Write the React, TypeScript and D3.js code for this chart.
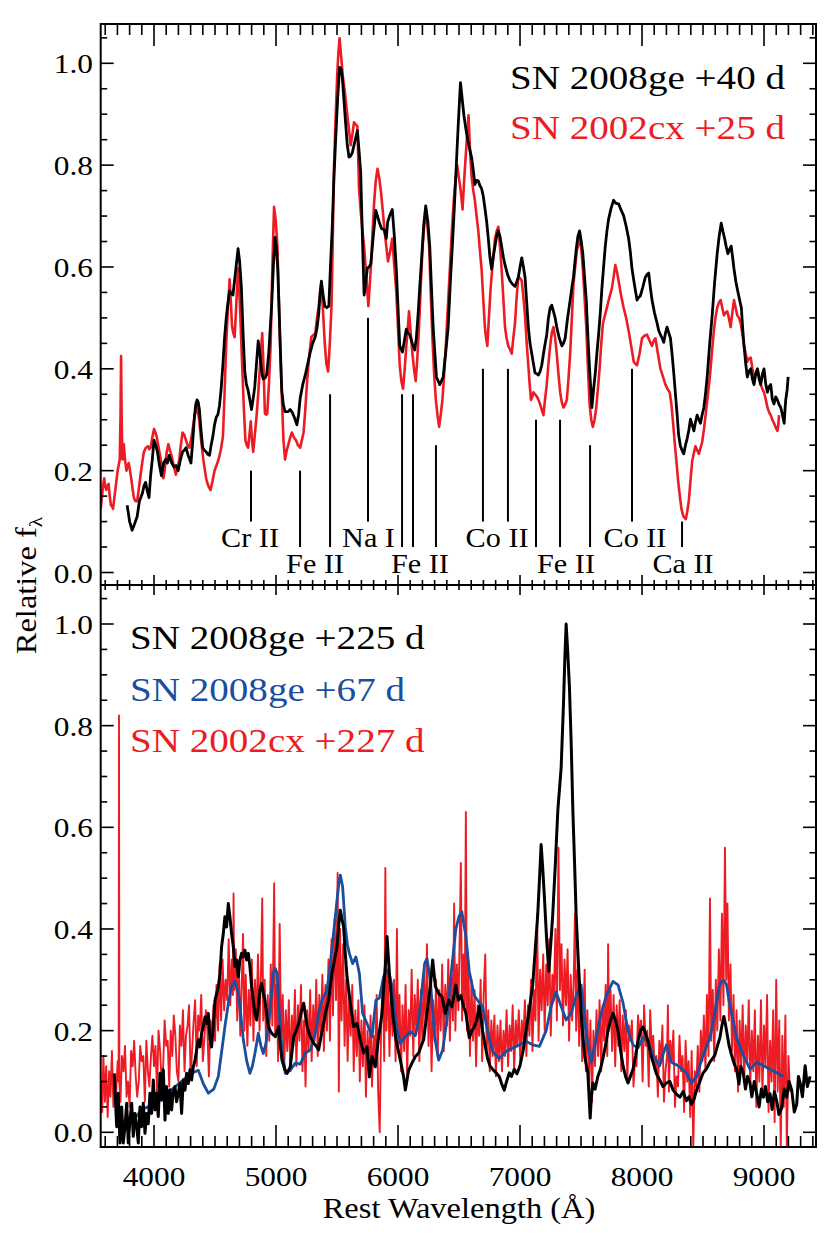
import React from 'react';
import * as d3 from 'd3';

type P = [number, number];

// ---------------- axis definitions ----------------
const X_DOMAIN: [number, number] = [3563, 9426];
const X_MAJOR = [4000, 5000, 6000, 7000, 8000, 9000];
const X_LABELS = ['4000', '5000', '6000', '7000', '8000', '9000'];
const Y_MAJOR = [0, 0.2, 0.4, 0.6, 0.8, 1.0];
const Y_LABELS = ['0.0', '0.2', '0.4', '0.6', '0.8', '1.0'];

// ---------------- top panel ----------------
const topLegend = ['SN 2008ge +40 d', 'SN 2002cx +25 d'];

const topRed: P[] = [
[3563,.125],[3573,.147],[3582,.17],[3592,.185],[3600,.17],[3609,.162],[3618,.17],[3628,.174],[3637,.15],[3647,.132],[3656,.13],[3664,.125],[3674,.145],[3683,.162],[3692,.18],[3702,.2],[3710,.21],[3719,.222],[3725,.3],[3730,.425],[3735,.3],[3741,.222],[3746,.24],[3752,.252],[3763,.22],[3774,.2],[3784,.21],[3793,.215],[3803,.2],[3813,.185],[3824,.165],[3835,.147],[3848,.14],[3862,.14],[3876,.165],[3890,.192],[3903,.215],[3917,.237],[3933,.245],[3950,.248],[3961,.242],[3972,.245],[3986,.265],[4000,.282],[4011,.275],[4022,.267],[4038,.245],[4055,.222],[4066,.2],[4077,.185],[4087,.2],[4096,.222],[4107,.24],[4118,.252],[4130,.24],[4143,.23],[4161,.21],[4179,.192],[4193,.205],[4207,.222],[4220,.25],[4234,.275],[4248,.27],[4262,.26],[4275,.25],[4289,.245],[4303,.26],[4317,.282],[4335,.31],[4353,.327],[4370,.3],[4386,.26],[4405,.22],[4427,.185],[4445,.17],[4463,.162],[4480,.18],[4496,.2],[4512,.21],[4529,.222],[4547,.24],[4565,.267],[4578,.35],[4592,.448],[4606,.52],[4620,.576],[4630,.53],[4639,.485],[4650,.47],[4661,.462],[4675,.53],[4689,.598],[4705,.52],[4722,.41],[4735,.33],[4749,.26],[4760,.25],[4771,.245],[4782,.27],[4793,.297],[4803,.26],[4813,.237],[4826,.27],[4840,.305],[4854,.35],[4868,.403],[4878,.44],[4887,.47],[4898,.4],[4909,.312],[4918,.31],[4928,.312],[4942,.37],[4956,.448],[4970,.6],[4984,.718],[4998,.69],[5011,.643],[5022,.55],[5033,.448],[5047,.35],[5061,.26],[5074,.222],[5088,.24],[5102,.252],[5116,.265],[5130,.275],[5147,.265],[5163,.26],[5180,.25],[5198,.245],[5212,.26],[5226,.275],[5240,.32],[5254,.373],[5270,.42],[5289,.462],[5305,.466],[5322,.47],[5336,.5],[5350,.523],[5362,.55],[5372,.568],[5386,.51],[5400,.448],[5413,.41],[5427,.395],[5441,.45],[5455,.523],[5465,.65],[5474,.786],[5488,.89],[5501,.974],[5511,1.02],[5521,1.049],[5535,1.01],[5548,.974],[5566,.94],[5584,.899],[5598,.87],[5612,.839],[5626,.86],[5639,.884],[5653,.88],[5667,.876],[5680,.756],[5694,.71],[5708,.673],[5722,.64],[5735,.598],[5746,.56],[5757,.523],[5767,.56],[5777,.598],[5790,.66],[5804,.726],[5818,.77],[5832,.793],[5846,.775],[5860,.748],[5875,.71],[5890,.671],[5904,.64],[5918,.611],[5935,.63],[5953,.656],[5970,.6],[5986,.551],[6000,.48],[6014,.407],[6028,.375],[6041,.361],[6055,.4],[6068,.445],[6080,.48],[6090,.513],[6104,.47],[6118,.43],[6131,.4],[6145,.376],[6158,.42],[6172,.482],[6186,.56],[6200,.633],[6214,.68],[6227,.716],[6241,.68],[6255,.641],[6268,.55],[6282,.46],[6296,.39],[6310,.339],[6323,.31],[6337,.286],[6350,.31],[6364,.339],[6378,.39],[6392,.445],[6408,.52],[6425,.596],[6441,.67],[6457,.731],[6471,.77],[6485,.8],[6496,.78],[6507,.762],[6518,.74],[6529,.713],[6542,.77],[6556,.822],[6567,.86],[6578,.898],[6590,.83],[6603,.777],[6617,.75],[6630,.731],[6644,.7],[6658,.671],[6672,.63],[6685,.596],[6698,.54],[6712,.482],[6722,.46],[6732,.445],[6745,.5],[6759,.558],[6777,.61],[6795,.656],[6808,.67],[6822,.679],[6836,.64],[6849,.596],[6863,.54],[6877,.482],[6890,.46],[6904,.445],[6918,.438],[6932,.43],[6945,.46],[6959,.49],[6972,.54],[6986,.58],[7000,.578],[7014,.573],[7028,.54],[7041,.505],[7055,.45],[7068,.407],[7079,.37],[7090,.339],[7100,.345],[7110,.354],[7123,.35],[7137,.346],[7150,.34],[7164,.331],[7178,.32],[7192,.309],[7205,.34],[7219,.369],[7233,.41],[7247,.445],[7260,.47],[7274,.482],[7288,.46],[7301,.43],[7315,.39],[7329,.354],[7342,.335],[7356,.324],[7370,.33],[7384,.339],[7397,.38],[7411,.43],[7425,.5],[7438,.565],[7452,.6],[7466,.633],[7480,.645],[7493,.656],[7504,.63],[7515,.596],[7529,.54],[7543,.482],[7557,.4],[7570,.331],[7584,.3],[7597,.286],[7611,.3],[7625,.324],[7638,.36],[7652,.4],[7666,.45],[7680,.49],[7696,.505],[7712,.52],[7732,.54],[7753,.558],[7767,.58],[7781,.604],[7795,.59],[7808,.573],[7828,.545],[7849,.52],[7870,.5],[7890,.475],[7911,.445],[7932,.414],[7945,.41],[7959,.407],[7980,.43],[8000,.46],[8020,.465],[8041,.467],[8062,.455],[8082,.445],[8096,.455],[8110,.46],[8130,.43],[8151,.4],[8171,.385],[8192,.369],[8210,.36],[8227,.354],[8241,.33],[8255,.293],[8268,.255],[8282,.218],[8296,.18],[8310,.15],[8323,.125],[8337,.112],[8348,.107],[8359,.105],[8371,.12],[8384,.142],[8397,.18],[8411,.218],[8425,.235],[8438,.248],[8452,.24],[8466,.233],[8480,.245],[8493,.256],[8507,.28],[8521,.309],[8538,.345],[8556,.384],[8572,.43],[8589,.475],[8602,.5],[8616,.52],[8630,.53],[8644,.535],[8658,.52],[8671,.505],[8685,.51],[8699,.513],[8712,.5],[8726,.482],[8740,.51],[8754,.535],[8767,.52],[8781,.505],[8795,.5],[8808,.49],[8822,.47],[8836,.445],[8850,.43],[8863,.414],[8877,.42],[8891,.422],[8905,.4],[8918,.384],[8932,.39],[8946,.4],[8960,.385],[8973,.369],[8987,.36],[9000,.354],[9014,.34],[9028,.324],[9041,.315],[9055,.309],[9068,.3],[9082,.293],[9096,.285],[9110,.278],[9117,.29],[9123,.309]
];

const topBlack: P[] = [
[3780,.132],[3800,.10],[3821,.083],[3840,.095],[3862,.11],[3880,.14],[3904,.155],[3918,.17],[3931,.177],[3945,.16],[3959,.147],[3972,.19],[3986,.222],[4000,.26],[4014,.25],[4028,.237],[4045,.21],[4061,.19],[4078,.215],[4096,.222],[4110,.215],[4124,.23],[4145,.215],[4165,.207],[4180,.21],[4198,.2],[4215,.22],[4234,.237],[4248,.24],[4262,.245],[4280,.23],[4303,.215],[4318,.26],[4331,.305],[4342,.33],[4353,.339],[4362,.335],[4372,.32],[4385,.28],[4399,.245],[4413,.24],[4427,.237],[4441,.232],[4455,.23],[4468,.25],[4482,.267],[4496,.29],[4510,.305],[4523,.31],[4537,.328],[4550,.36],[4565,.41],[4578,.46],[4592,.5],[4606,.53],[4620,.553],[4633,.548],[4647,.545],[4668,.59],[4689,.636],[4702,.61],[4716,.56],[4730,.47],[4744,.395],[4757,.37],[4771,.358],[4785,.34],[4799,.32],[4812,.34],[4826,.365],[4840,.41],[4854,.455],[4865,.435],[4876,.41],[4885,.39],[4895,.38],[4910,.382],[4923,.388],[4940,.43],[4964,.523],[4978,.6],[4992,.658],[5003,.64],[5014,.598],[5030,.48],[5047,.358],[5060,.33],[5074,.316],[5100,.316],[5115,.32],[5130,.316],[5150,.305],[5171,.29],[5185,.31],[5198,.342],[5220,.37],[5240,.388],[5260,.41],[5281,.433],[5300,.45],[5322,.463],[5336,.48],[5350,.508],[5362,.55],[5372,.572],[5386,.545],[5400,.523],[5416,.52],[5433,.523],[5446,.6],[5460,.673],[5474,.77],[5488,.846],[5505,.93],[5521,.992],[5532,.99],[5543,.974],[5556,.93],[5570,.884],[5584,.84],[5598,.816],[5612,.818],[5625,.824],[5640,.84],[5653,.853],[5667,.868],[5680,.83],[5694,.786],[5708,.66],[5722,.545],[5735,.57],[5749,.598],[5763,.6],[5777,.606],[5797,.66],[5818,.711],[5832,.7],[5846,.688],[5866,.675],[5887,.673],[5904,.656],[5915,.688],[5930,.7],[5953,.713],[5970,.66],[5986,.596],[6000,.52],[6014,.445],[6036,.433],[6052,.455],[6068,.478],[6082,.47],[6096,.467],[6117,.45],[6137,.437],[6150,.46],[6164,.505],[6178,.56],[6192,.611],[6210,.68],[6227,.72],[6244,.69],[6260,.641],[6274,.56],[6288,.482],[6302,.43],[6315,.384],[6342,.369],[6370,.384],[6390,.43],[6411,.482],[6431,.58],[6452,.671],[6468,.75],[6485,.837],[6498,.9],[6512,.962],[6526,.93],[6540,.898],[6557,.87],[6575,.845],[6589,.83],[6603,.815],[6617,.79],[6630,.762],[6644,.77],[6658,.769],[6671,.76],[6685,.754],[6698,.74],[6712,.716],[6726,.69],[6740,.656],[6753,.62],[6767,.596],[6781,.62],[6795,.641],[6808,.66],[6822,.671],[6836,.66],[6849,.641],[6863,.62],[6877,.604],[6898,.585],[6918,.573],[6939,.566],[6959,.562],[6972,.57],[6986,.58],[7000,.6],[7014,.618],[7028,.6],[7041,.58],[7055,.53],[7068,.482],[7082,.45],[7096,.43],[7110,.41],[7123,.392],[7137,.39],[7151,.388],[7165,.395],[7178,.407],[7199,.44],[7219,.467],[7233,.5],[7247,.52],[7260,.525],[7274,.513],[7288,.5],[7301,.482],[7322,.46],[7343,.445],[7356,.45],[7370,.46],[7390,.5],[7411,.535],[7425,.56],[7438,.58],[7450,.61],[7460,.633],[7474,.66],[7488,.671],[7502,.65],[7515,.626],[7529,.58],[7543,.535],[7557,.46],[7570,.4],[7580,.36],[7589,.324],[7603,.36],[7617,.392],[7630,.43],[7644,.467],[7658,.51],[7671,.558],[7685,.6],[7699,.641],[7712,.67],[7726,.694],[7746,.715],[7767,.731],[7787,.725],[7808,.724],[7828,.712],[7849,.701],[7870,.68],[7890,.656],[7904,.63],[7918,.596],[7938,.565],[7959,.535],[7972,.54],[7986,.543],[8006,.56],[8027,.58],[8041,.585],[8055,.588],[8068,.56],[8082,.535],[8102,.51],[8123,.49],[8137,.475],[8151,.467],[8165,.46],[8178,.452],[8192,.47],[8205,.482],[8220,.47],[8233,.46],[8246,.43],[8260,.392],[8274,.35],[8288,.309],[8300,.27],[8315,.248],[8328,.24],[8342,.233],[8356,.25],[8370,.263],[8384,.28],[8397,.301],[8411,.29],[8425,.278],[8438,.295],[8452,.309],[8466,.3],[8479,.293],[8493,.31],[8507,.324],[8520,.35],[8534,.384],[8555,.45],[8575,.505],[8595,.57],[8616,.626],[8632,.66],[8649,.686],[8663,.67],[8677,.656],[8690,.64],[8704,.626],[8718,.635],[8731,.641],[8742,.62],[8754,.596],[8770,.57],[8786,.551],[8800,.535],[8814,.52],[8825,.48],[8836,.445],[8850,.41],[8863,.384],[8877,.395],[8891,.4],[8905,.38],[8918,.369],[8932,.39],[8946,.4],[8960,.38],[8973,.369],[8987,.39],[9000,.4],[9014,.37],[9028,.354],[9041,.365],[9055,.369],[9068,.34],[9082,.331],[9096,.345],[9110,.339],[9123,.33],[9137,.324],[9151,.31],[9165,.293],[9172,.32],[9178,.339],[9190,.36],[9198,.384]
];

// line identifications (wavelength, top value, bottom value)
const ionLineWave = [4795, 5197, 5443, 5754, 6033, 6123, 6311, 6696, 6901, 7131, 7328, 7574, 7918, 8328];
const ionLineTop = [0.2, 0.2, 0.35, 0.5, 0.35, 0.35, 0.25, 0.4, 0.4, 0.3, 0.3, 0.25, 0.4, 0.1];
const ionLineBottom = [0.1, 0.05, 0.05, 0.1, 0.05, 0.05, 0.05, 0.1, 0.1, 0.05, 0.05, 0.05, 0.1, 0.05];
const ionLabelText = ['Cr II', 'Fe II', 'Na I', 'Fe II', 'Co II', 'Fe II', 'Co II', 'Ca II'];
const ionLabelWave = [4787, 5320, 5758, 6180, 6812, 7377, 7942, 8336];
const ionLabelValue = [0.05, 0.0, 0.05, 0.0, 0.05, 0.0, 0.05, 0.0];

// ---------------- bottom panel ----------------
const botLegend = ['SN 2008ge +225 d', 'SN 2008ge +67 d', 'SN 2002cx +227 d'];

const botRed: P[] = [
[3563,.10],[3575,.04],[3585,.15],[3597,.06],[3608,.13],[3620,.03],[3632,.12],[3643,.07],[3655,.16],[3667,.05],[3678,.11],[3690,.08],[3702,.14],[3710,.10],[3713,.82],[3716,.10],[3725,.06],[3737,.15],[3750,.12],[3762,.17],[3775,.07],[3787,.10],[3800,.05],[3812,.16],[3825,.13],[3837,.18],[3850,.11],[3862,.07],[3875,.10],[3887,.17],[3900,.14],[3912,.15],[3925,.06],[3937,.18],[3950,.12],[3962,.09],[3975,.15],[3987,.19],[4000,.13],[4012,.17],[4025,.08],[4037,.20],[4050,.16],[4062,.10],[4075,.13],[4087,.22],[4100,.17],[4112,.18],[4125,.09],[4137,.20],[4150,.15],[4162,.23],[4175,.19],[4187,.12],[4200,.10],[4212,.21],[4225,.17],[4237,.24],[4250,.12],[4262,.19],[4275,.21],[4287,.25],[4300,.11],[4312,.16],[4325,.22],[4337,.26],[4350,.13],[4362,.23],[4375,.20],[4387,.27],[4400,.14],[4412,.18],[4425,.24],[4437,.20],[4450,.11],[4462,.22],[4475,.19],[4487,.25],[4500,.18],[4512,.29],[4525,.20],[4537,.33],[4550,.22],[4562,.34],[4575,.24],[4587,.30],[4600,.26],[4612,.38],[4625,.25],[4637,.34],[4647,.27],[4652,.47],[4657,.28],[4670,.36],[4682,.22],[4695,.33],[4707,.19],[4720,.30],[4730,.39],[4740,.20],[4752,.31],[4765,.17],[4777,.28],[4790,.21],[4802,.34],[4815,.18],[4827,.30],[4840,.22],[4852,.35],[4865,.20],[4877,.32],[4887,.46],[4895,.22],[4907,.30],[4920,.15],[4932,.27],[4945,.18],[4957,.33],[4970,.21],[4985,.49],[4993,.19],[5005,.29],[5017,.14],[5030,.41],[5042,.17],[5055,.27],[5067,.13],[5080,.24],[5092,.16],[5105,.26],[5117,.12],[5130,.23],[5142,.17],[5155,.28],[5167,.13],[5180,.25],[5192,.18],[5205,.29],[5217,.12],[5230,.22],[5242,.09],[5255,.24],[5267,.16],[5280,.28],[5292,.14],[5305,.25],[5317,.18],[5330,.30],[5342,.15],[5355,.27],[5367,.19],[5380,.31],[5392,.16],[5405,.29],[5417,.20],[5430,.34],[5442,.18],[5455,.38],[5467,.23],[5480,.42],[5492,.26],[5505,.51],[5515,.08],[5525,.40],[5537,.22],[5550,.37],[5562,.17],[5575,.30],[5587,.14],[5600,.27],[5612,.19],[5625,.29],[5637,.12],[5650,.24],[5662,.15],[5675,.26],[5687,.10],[5700,.22],[5712,.13],[5725,.25],[5737,.07],[5750,.20],[5762,.12],[5775,.23],[5787,.09],[5800,.19],[5812,.14],[5825,.27],[5837,.08],[5850,.00],[5862,.22],[5875,.30],[5887,.14],[5896,.52],[5905,.20],[5917,.32],[5930,.15],[5942,.28],[5955,.19],[5967,.30],[5980,.14],[5991,.40],[6000,.17],[6012,.27],[6025,.12],[6037,.25],[6050,.16],[6062,.29],[6075,.11],[6087,.24],[6100,.19],[6112,.32],[6125,.15],[6137,.27],[6150,.20],[6162,.30],[6175,.14],[6187,.28],[6200,.18],[6212,.31],[6225,.21],[6237,.37],[6250,.17],[6262,.29],[6275,.12],[6287,.26],[6300,.18],[6312,.30],[6325,.15],[6337,.28],[6350,.20],[6362,.33],[6375,.16],[6387,.29],[6400,.21],[6412,.34],[6425,.18],[6437,.31],[6450,.22],[6460,.45],[6470,.20],[6482,.33],[6495,.24],[6505,.38],[6515,.53],[6525,.22],[6537,.35],[6547,.25],[6556,.63],[6565,.20],[6577,.33],[6590,.15],[6602,.30],[6615,.18],[6627,.28],[6640,.13],[6652,.25],[6665,.19],[6677,.30],[6690,.14],[6702,.27],[6715,.35],[6727,.16],[6740,.24],[6752,.12],[6765,.22],[6777,.15],[6790,.23],[6802,.11],[6815,.21],[6827,.14],[6840,.22],[6852,.12],[6865,.20],[6877,.15],[6890,.24],[6902,.13],[6915,.21],[6927,.16],[6940,.25],[6952,.12],[6965,.22],[6977,.17],[6990,.24],[7002,.14],[7015,.22],[7027,.18],[7040,.26],[7052,.15],[7065,.25],[7077,.19],[7090,.30],[7102,.16],[7115,.28],[7127,.22],[7140,.43],[7152,.18],[7165,.32],[7177,.24],[7190,.35],[7202,.20],[7215,.33],[7227,.25],[7240,.38],[7252,.19],[7265,.31],[7277,.26],[7290,.40],[7302,.22],[7315,.56],[7327,.28],[7340,.37],[7352,.21],[7365,.34],[7377,.25],[7390,.36],[7402,.18],[7415,.31],[7427,.22],[7440,.30],[7450,.43],[7460,.20],[7472,.32],[7485,.17],[7497,.29],[7510,.14],[7522,.25],[7530,.32],[7540,.12],[7552,.24],[7565,.10],[7577,.22],[7590,.06],[7602,.20],[7615,.13],[7627,.24],[7640,.15],[7652,.26],[7665,.12],[7677,.25],[7690,.18],[7702,.29],[7715,.15],[7722,.37],[7730,.20],[7742,.28],[7755,.16],[7767,.27],[7780,.13],[7792,.25],[7805,.17],[7817,.26],[7830,.12],[7842,.23],[7855,.16],[7867,.24],[7880,.10],[7892,.21],[7905,.18],[7917,.22],[7930,.09],[7942,.14],[7955,.13],[7967,.23],[7980,.19],[7992,.22],[8005,.10],[8017,.25],[8030,.17],[8042,.20],[8055,.09],[8067,.24],[8080,.16],[8092,.19],[8105,.12],[8117,.15],[8130,.07],[8142,.18],[8155,.14],[8167,.21],[8180,.06],[8192,.12],[8205,.15],[8212,.25],[8220,.08],[8232,.18],[8245,.14],[8257,.20],[8270,.05],[8282,.11],[8295,.09],[8307,.19],[8320,.12],[8332,.15],[8345,.04],[8357,.18],[8370,.10],[8382,.14],[8395,.03],[8407,.16],[8420,-.03],[8432,.12],[8445,.09],[8457,.17],[8470,.08],[8482,.20],[8495,.14],[8507,.23],[8520,.12],[8532,.27],[8545,.15],[8557,.46],[8567,.18],[8580,.28],[8592,.14],[8605,.30],[8617,.20],[8630,.36],[8642,.22],[8655,.43],[8667,.25],[8680,.56],[8690,.30],[8700,.45],[8712,.22],[8725,.33],[8737,.16],[8750,.27],[8762,.12],[8775,.24],[8787,.08],[8800,.22],[8812,.13],[8825,.25],[8837,.10],[8850,.21],[8862,.14],[8875,.26],[8887,.09],[8900,.20],[8912,.12],[8925,.24],[8937,.05],[8950,.19],[8962,.10],[8975,.26],[8987,.07],[9000,.21],[9012,.13],[9025,.27],[9037,.04],[9050,.18],[9062,.10],[9075,.24],[9087,.02],[9100,.30],[9112,.08],[9125,.22],[9137,-.03],[9150,.19],[9162,.05],[9175,.23],[9187,-.03],[9200,.15],[9212,.08]
];

const botBlue: P[] = [
[3850,.03],[3900,.045],[3950,.05],[4000,.06],[4050,.07],[4100,.08],[4150,.085],[4200,.095],[4250,.105],[4300,.115],[4363,.122],[4405,.095],[4445,.077],[4490,.085],[4527,.11],[4555,.16],[4581,.208],[4610,.255],[4636,.287],[4663,.297],[4691,.273],[4712,.23],[4732,.182],[4760,.14],[4786,.116],[4806,.13],[4827,.155],[4855,.195],[4876,.17],[4896,.155],[4917,.175],[4937,.208],[4958,.26],[4978,.313],[4995,.322],[5008,.313],[5028,.23],[5049,.162],[5076,.116],[5117,.122],[5158,.136],[5199,.134],[5240,.156],[5281,.162],[5322,.195],[5350,.235],[5377,.26],[5418,.28],[5440,.32],[5459,.365],[5480,.41],[5500,.457],[5515,.49],[5527,.506],[5546,.483],[5568,.404],[5585,.37],[5601,.352],[5628,.332],[5655,.345],[5683,.313],[5710,.234],[5746,.214],[5787,.188],[5805,.23],[5819,.26],[5847,.264],[5882,.306],[5910,.319],[5930,.31],[5951,.287],[5983,.214],[6019,.175],[6060,.188],[6101,.198],[6142,.19],[6165,.215],[6183,.247],[6200,.29],[6218,.332],[6237,.342],[6265,.3],[6283,.24],[6300,.188],[6333,.142],[6366,.162],[6401,.221],[6430,.3],[6474,.4],[6500,.425],[6523,.434],[6556,.386],[6584,.317],[6625,.269],[6666,.255],[6693,.248],[6734,.2],[6775,.159],[6830,.145],[6885,.159],[6940,.166],[6995,.172],[7049,.179],[7104,.172],[7159,.169],[7214,.2],[7255,.248],[7296,.276],[7337,.248],[7378,.221],[7419,.234],[7460,.269],[7501,.29],[7542,.193],[7584,.138],[7625,.186],[7666,.234],[7707,.269],[7762,.297],[7803,.29],[7844,.255],[7885,.2],[7926,.172],[7967,.166],[8008,.186],[8049,.179],[8090,.152],[8145,.131],[8175,.155],[8200,.172],[8241,.138],[8296,.131],[8364,.117],[8405,.097],[8447,.11],[8501,.152],[8556,.186],[8585,.22],[8611,.255],[8632,.285],[8652,.297],[8675,.298],[8693,.29],[8712,.26],[8734,.234],[8775,.186],[8830,.152],[8885,.124],[8940,.138],[8995,.131],[9049,.124],[9104,.117],[9160,.11]
];

const botBlack: P[] = [
[3674,.116],[3694,.011],[3707,.077],[3721,-.021],[3735,.05],[3748,-.021],[3762,.011],[3776,.057],[3789,-.021],[3803,.024],[3817,.057],[3830,-.008],[3844,.037],[3858,.011],[3871,-.021],[3885,.05],[3898,.011],[3912,.057],[3926,-.002],[3939,.037],[3953,.017],[3967,.077],[3980,.037],[3994,.103],[4008,.044],[4021,.077],[4035,.031],[4049,.116],[4062,.063],[4076,.123],[4090,.024],[4103,.09],[4117,.037],[4131,.083],[4144,.044],[4158,.08],[4172,.09],[4185,.06],[4199,.077],[4213,.096],[4226,.037],[4240,.103],[4254,.083],[4267,.116],[4281,.096],[4295,.123],[4308,.103],[4322,.129],[4336,.142],[4349,.162],[4363,.182],[4377,.168],[4390,.195],[4404,.208],[4418,.227],[4431,.214],[4445,.234],[4459,.182],[4472,.168],[4486,.208],[4500,.26],[4513,.273],[4527,.286],[4541,.313],[4554,.365],[4568,.391],[4581,.424],[4595,.404],[4609,.45],[4622,.424],[4636,.391],[4650,.365],[4663,.326],[4677,.339],[4691,.306],[4704,.339],[4718,.352],[4732,.345],[4745,.358],[4759,.339],[4773,.352],[4786,.326],[4800,.286],[4814,.26],[4827,.234],[4841,.221],[4855,.247],[4868,.28],[4882,.293],[4896,.273],[4909,.26],[4923,.234],[4937,.208],[4964,.195],[4994,.188],[5022,.208],[5035,.17],[5049,.142],[5070,.125],[5090,.116],[5117,.129],[5145,.188],[5165,.2],[5186,.214],[5205,.235],[5227,.254],[5254,.208],[5281,.188],[5309,.175],[5330,.17],[5349,.162],[5370,.19],[5390,.214],[5410,.24],[5431,.26],[5459,.313],[5480,.34],[5500,.365],[5515,.41],[5527,.437],[5540,.42],[5554,.404],[5568,.35],[5582,.306],[5609,.254],[5636,.208],[5664,.214],[5691,.182],[5718,.156],[5746,.168],[5765,.109],[5787,.149],[5814,.129],[5841,.188],[5869,.234],[5884,.29],[5896,.326],[5910,.385],[5929,.313],[5956,.234],[5983,.182],[6019,.142],[6046,.109],[6060,.083],[6087,.122],[6114,.136],[6142,.149],[6169,.156],[6190,.17],[6210,.182],[6237,.234],[6265,.287],[6284,.339],[6306,.287],[6333,.273],[6360,.267],[6388,.234],[6415,.26],[6442,.247],[6474,.29],[6495,.26],[6515,.269],[6535,.25],[6556,.234],[6584,.186],[6605,.2],[6625,.207],[6645,.22],[6666,.248],[6693,.2],[6715,.17],[6734,.145],[6755,.13],[6775,.124],[6800,.118],[6830,.11],[6850,.095],[6871,.083],[6890,.1],[6912,.117],[6930,.11],[6953,.124],[6975,.115],[7000,.131],[7025,.16],[7049,.2],[7075,.24],[7104,.29],[7125,.36],[7145,.428],[7160,.5],[7173,.566],[7186,.52],[7200,.462],[7218,.38],[7236,.317],[7252,.37],[7268,.428],[7290,.53],[7310,.634],[7337,.717],[7356,.841],[7367,.93],[7378,1.0],[7390,.95],[7405,.876],[7420,.76],[7433,.634],[7447,.53],[7460,.428],[7475,.35],[7488,.29],[7508,.21],[7529,.152],[7545,.13],[7556,.117],[7566,.07],[7575,.028],[7585,.07],[7597,.097],[7615,.085],[7638,.11],[7660,.125],[7679,.145],[7700,.17],[7721,.2],[7742,.22],[7762,.234],[7783,.22],[7803,.2],[7825,.16],[7844,.131],[7865,.11],[7885,.097],[7905,.11],[7926,.124],[7947,.15],[7967,.179],[7988,.2],[8008,.207],[8028,.195],[8049,.179],[8070,.155],[8090,.138],[8118,.115],[8145,.103],[8172,.09],[8200,.097],[8228,.1],[8255,.083],[8283,.075],[8310,.069],[8337,.08],[8364,.062],[8385,.07],[8405,.055],[8426,.065],[8447,.083],[8474,.1],[8501,.117],[8528,.125],[8556,.138],[8577,.145],[8597,.152],[8618,.17],[8638,.186],[8655,.21],[8671,.228],[8682,.215],[8693,.2],[8714,.17],[8734,.152],[8755,.135],[8775,.124],[8795,.095],[8810,.13],[8830,.117],[8848,.085],[8865,.11],[8885,.097],[8900,.07],[8920,.1],[8940,.076],[8960,.05],[8978,.085],[8995,.069],[9012,.09],[9030,.06],[9049,.076],[9066,.045],[9085,.08],[9104,.062],[9122,.035],[9145,.048],[9165,.085],[9186,.069],[9205,.1],[9227,.083],[9248,.04],[9268,.055],[9282,.11],[9296,.097],[9315,.07],[9337,.131],[9355,.09],[9378,.11]
];

// ---------------- styling ----------------
const RED = '#ED1C24';
const BLUE = '#1B4E9F';
const FONT = '"Liberation Serif", "Times New Roman", Times, serif';

function SText(props: { x: number; y: number; size: number; sx?: number; anchor?: string; fill?: string; rotate?: number; children: React.ReactNode }) {
  const { x, y, size, sx = 1.12, anchor = 'start', fill = '#000', rotate = 0, children } = props;
  return (
    <text
      transform={`translate(${x},${y}) rotate(${rotate}) scale(${sx},1)`}
      textAnchor={anchor as any}
      fontSize={size}
      fill={fill}
      fontFamily={FONT}
    >
      {children}
    </text>
  );
}

export default function App() {
  const W = 830, H = 1246;
  const left = 100.7, right = 816;
  const top0 = 24, sep = 585, bot1 = 1147;

  const x = d3.scaleLinear().domain(X_DOMAIN).range([left, right]);
  const yTop = d3.scaleLinear().domain([0, 1]).range([572.5, 63.3]);
  const yBot = d3.scaleLinear().domain([0, 1]).range([1132.3, 624]);

  const lineTop = d3.line<P>().x(d => x(d[0])).y(d => yTop(d[1]));
  const lineBot = d3.line<P>().x(d => x(d[0])).y(d => yBot(d[1]));

  const xMinor = d3.range(3600, 9401, 100).filter(v => v % 1000 !== 0);
  const yMinor = d3.range(0, 1.0501, 0.05).filter(v => Math.abs(v * 5 - Math.round(v * 5)) > 1e-6);

  const majLenX = 22, minLenX = 11;
  const sepMaj = 10, sepMin = 5;
  const majLenY = 13, minLenY = 6.5;

  const yTicks = (yS: d3.ScaleLinear<number, number>, key: string) => (
    <g key={key} stroke="#000" strokeWidth={1.6}>
      {Y_MAJOR.map((v, i) => (
        <g key={'M' + i}>
          <line x1={left} x2={left + majLenY} y1={yS(v)} y2={yS(v)} />
          <line x1={right} x2={right - majLenY} y1={yS(v)} y2={yS(v)} />
        </g>
      ))}
      {yMinor.map((v, i) => (
        <g key={'m' + i}>
          <line x1={left} x2={left + minLenY} y1={yS(v)} y2={yS(v)} />
          <line x1={right} x2={right - minLenY} y1={yS(v)} y2={yS(v)} />
        </g>
      ))}
    </g>
  );

  return (
    <svg width={W} height={H} style={{ position: 'absolute', left: 0, top: 0, background: '#fff' }}>
      <rect x={0} y={0} width={W} height={H} fill="#fff" />
      <defs>
        <clipPath id="clipTop"><rect x={left} y={top0} width={right - left} height={sep - top0} /></clipPath>
        <clipPath id="clipBot"><rect x={left} y={sep} width={right - left} height={bot1 - sep} /></clipPath>
      </defs>

      {/* ---- top panel data ---- */}
      <g clipPath="url(#clipTop)" fill="none" strokeLinejoin="round">
        <path d={lineTop(topRed) || ''} stroke={RED} strokeWidth={2.6} />
        <path d={lineTop(topBlack) || ''} stroke="#000" strokeWidth={2.8} />
      </g>

      {/* ion marker lines */}
      <g stroke="#000" strokeWidth={2}>
        {ionLineWave.map((w, i) => (
          <line key={i} x1={x(w)} x2={x(w)} y1={yTop(ionLineTop[i])} y2={yTop(ionLineBottom[i])} />
        ))}
      </g>
      {ionLabelText.map((t, i) => (
        <SText key={i} x={x(ionLabelWave[i])} y={yTop(ionLabelValue[i])} size={27} anchor="middle">{t}</SText>
      ))}

      {/* top legend */}
      <SText x={510} y={89} size={34} sx={1.15}>{topLegend[0]}</SText>
      <SText x={510} y={139} size={34} sx={1.15} fill={RED}>{topLegend[1]}</SText>

      {/* ---- bottom panel data ---- */}
      <g clipPath="url(#clipBot)" fill="none" strokeLinejoin="round">
        <path d={lineBot(botRed) || ''} stroke={RED} strokeWidth={1.9} />
        <path d={lineBot(botBlue) || ''} stroke={BLUE} strokeWidth={2.8} />
        <path d={lineBot(botBlack) || ''} stroke="#000" strokeWidth={3} />
      </g>

      {/* bottom legend */}
      <SText x={130} y={649} size={34} sx={1.15}>{botLegend[0]}</SText>
      <SText x={130} y={701} size={34} sx={1.15} fill={BLUE}>{botLegend[1]}</SText>
      <SText x={130} y={752} size={34} sx={1.15} fill={RED}>{botLegend[2]}</SText>

      {/* ---- frames ---- */}
      <g fill="none" stroke="#000" strokeWidth={2}>
        <rect x={left} y={top0} width={right - left} height={bot1 - top0} />
        <line x1={left} x2={right} y1={sep} y2={sep} />
      </g>

      {/* x ticks */}
      <g stroke="#000" strokeWidth={1.6}>
        {X_MAJOR.map((v, i) => (
          <g key={'xM' + i}>
            <line x1={x(v)} x2={x(v)} y1={top0} y2={top0 + majLenX} />
            <line x1={x(v)} x2={x(v)} y1={bot1} y2={bot1 - majLenX} />
            <line x1={x(v)} x2={x(v)} y1={sep - sepMaj} y2={sep + sepMaj} />
          </g>
        ))}
        {xMinor.map((v, i) => (
          <g key={'xm' + i}>
            <line x1={x(v)} x2={x(v)} y1={top0} y2={top0 + minLenX} />
            <line x1={x(v)} x2={x(v)} y1={bot1} y2={bot1 - minLenX} />
            <line x1={x(v)} x2={x(v)} y1={sep - sepMin} y2={sep + sepMin} />
          </g>
        ))}
      </g>

      {/* y ticks */}
      {yTicks(yTop, 'yt')}
      {yTicks(yBot, 'yb')}

      {/* y tick labels */}
      {Y_MAJOR.map((v, i) => (
        <SText key={'tl' + i} x={93} y={yTop(v) + 10} size={28} anchor="end">{Y_LABELS[i]}</SText>
      ))}
      {Y_MAJOR.map((v, i) => (
        <SText key={'bl' + i} x={93} y={yBot(v) + 10} size={28} anchor="end">{Y_LABELS[i]}</SText>
      ))}

      {/* x tick labels */}
      {X_MAJOR.map((v, i) => (
        <SText key={'xl' + i} x={x(v)} y={1186} size={28} anchor="middle">{X_LABELS[i]}</SText>
      ))}

      {/* axis titles */}
      <SText x={459} y={1218} size={29} anchor="middle">Rest Wavelength (Å)</SText>
      <text
        transform={`translate(36,${(top0 + bot1) / 2}) rotate(-90) scale(1.12,1)`}
        textAnchor="middle"
        fontSize={29}
        fontFamily={FONT}
        fill="#000"
      >
        Relative f<tspan fontSize={19} dy={6}>λ</tspan>
      </text>
    </svg>
  );
}
